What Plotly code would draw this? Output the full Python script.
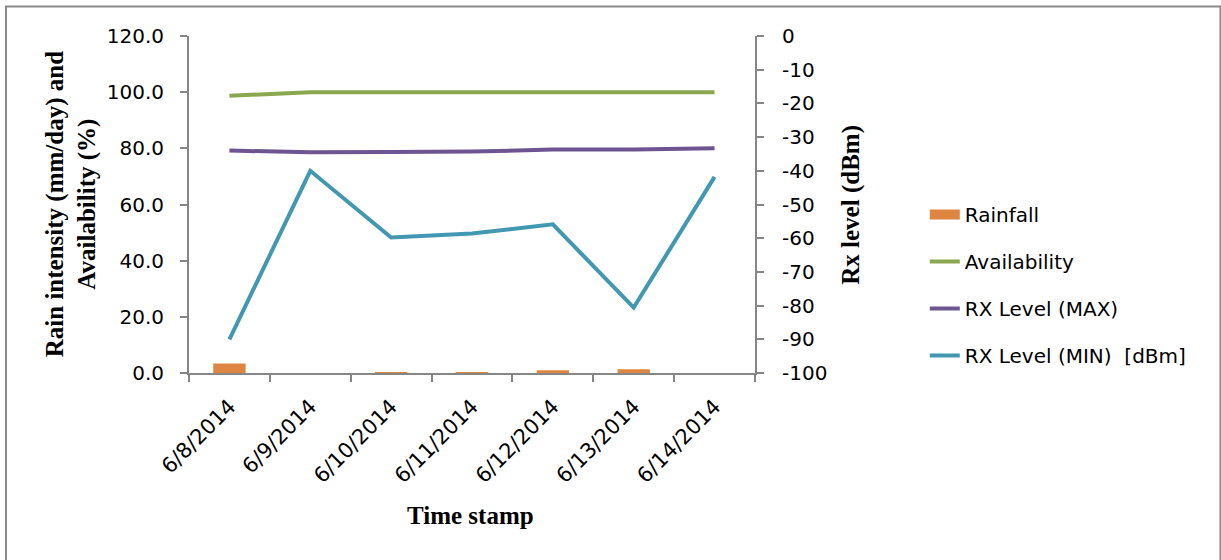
import plotly.graph_objects as go

# Daily link statistics
dates = ["6/8/2014", "6/9/2014", "6/10/2014", "6/11/2014",
         "6/12/2014", "6/13/2014", "6/14/2014"]
rainfall = [3.4, 0.0, 0.3, 0.3, 1.0, 1.3, 0.0]            # mm/day
availability = [98.7, 100.0, 100.0, 100.0, 100.0, 99.9, 100.0]  # %
rx_max = [-34.0, -34.5, -34.4, -34.3, -33.7, -33.7, -33.3]  # dBm
rx_min = [-90.0, -40.0, -59.8, -58.6, -55.9, -80.6, -41.8]  # dBm

left_ticks = [0, 20, 40, 60, 80, 100, 120]
right_ticks = list(range(-100, 1, 10))
right_labels = [str(v) for v in right_ticks]  # plain hyphen minus

ORANGE = "#DE8641"
GREEN = "#8BA74F"
PURPLE = "#6D5591"
TEAL = "#4298B0"
AXIS = "#868686"

SANS = "DejaVu Sans"
SERIF = "Liberation Serif"

fig = go.Figure()

fig.add_trace(go.Bar(
    x=dates, y=rainfall, name="Rainfall",
    marker=dict(color=ORANGE, line=dict(width=0)),
    showlegend=False, yaxis="y",
))
# wide swatch for the rainfall entry in the legend
fig.add_trace(go.Scatter(
    x=[None], y=[None], name="Rainfall", mode="lines",
    line=dict(color=ORANGE, width=15), legendgroup="g1", yaxis="y",
))
fig.add_trace(go.Scatter(
    x=dates, y=availability, name="Availability", mode="lines",
    line=dict(color=GREEN, width=4), legendgroup="g2", yaxis="y",
))
fig.add_trace(go.Scatter(
    x=dates, y=rx_max, name="RX Level (MAX)", mode="lines",
    line=dict(color=PURPLE, width=4), legendgroup="g3", yaxis="y2",
))
fig.add_trace(go.Scatter(
    x=dates, y=rx_min, name="RX Level (MIN)  [dBm]", mode="lines",
    line=dict(color=TEAL, width=4), legendgroup="g4", yaxis="y2",
))

fig.update_layout(
    width=1221, height=560,
    autosize=False,
    margin=dict(l=189, r=466, t=35.5, b=187, pad=0),
    paper_bgcolor="white",
    plot_bgcolor="white",
    font=dict(family=SANS, size=20, color="black"),
    bargap=0.6,
    showlegend=True,
    legend=dict(
        x=1.30, y=0.528, xanchor="left", yanchor="top",
        traceorder="grouped", tracegroupgap=18,
        font=dict(family=SANS, size=20, color="black"),
        bgcolor="rgba(0,0,0,0)", borderwidth=0,
    ),
    xaxis=dict(
        type="category", range=[-0.5, 6.5],
        showline=True, linecolor=AXIS, linewidth=2,
        ticks="outside", ticklen=7, tickcolor=AXIS, tickwidth=1.5,
        tickson="boundaries", tickangle=-45,
        ticklabelstandoff=11,
        showgrid=False, zeroline=False,
        tickfont=dict(family=SANS, size=21, color="black"),
    ),
    yaxis=dict(
        range=[0, 120], tickvals=left_ticks, tickformat=".1f",
        showline=True, linecolor=AXIS, linewidth=2,
        ticks="outside", ticklen=7, tickcolor=AXIS, tickwidth=1.5,
        ticklabelstandoff=12,
        showgrid=False, zeroline=False,
        tickfont=dict(family=SANS, size=20, color="black"),
    ),
    yaxis2=dict(
        range=[-100, 0], tickvals=right_ticks, ticktext=right_labels,
        overlaying="y", side="right", anchor="x",
        showline=True, linecolor=AXIS, linewidth=2,
        ticks="outside", ticklen=7, tickcolor=AXIS, tickwidth=1.5,
        ticklabelstandoff=14,
        showgrid=False, zeroline=False,
        tickfont=dict(family=SANS, size=20, color="black"),
    ),
    shapes=[dict(
        type="rect", xref="paper", yref="paper",
        x0=-0.3233, x1=1.8224, y0=-0.60, y1=1.0874,
        line=dict(color="#8A8A8A", width=2), fillcolor="rgba(0,0,0,0)",
        layer="below",
    )],
    annotations=[
        dict(
            text="Rain intensity (mm/day) and<br>Availability (%)",
            xref="paper", yref="paper", x=-0.2085, y=0.5007,
            xanchor="center", yanchor="middle", textangle=-90,
            showarrow=False,
            font=dict(family=SERIF, size=25, color="black", weight="bold"),
        ),
        dict(
            text="Rx level (dBm)",
            xref="paper", yref="paper", x=1.1696, y=0.4993,
            xanchor="center", yanchor="middle", textangle=-90,
            showarrow=False,
            font=dict(family=SERIF, size=25, color="black", weight="bold"),
        ),
        dict(
            text="Time stamp",
            xref="paper", yref="paper", x=0.4982, y=-0.4237,
            xanchor="center", yanchor="middle",
            showarrow=False,
            font=dict(family=SERIF, size=25, color="black", weight="bold"),
        ),
    ],
)

fig.write_html("out.html")
